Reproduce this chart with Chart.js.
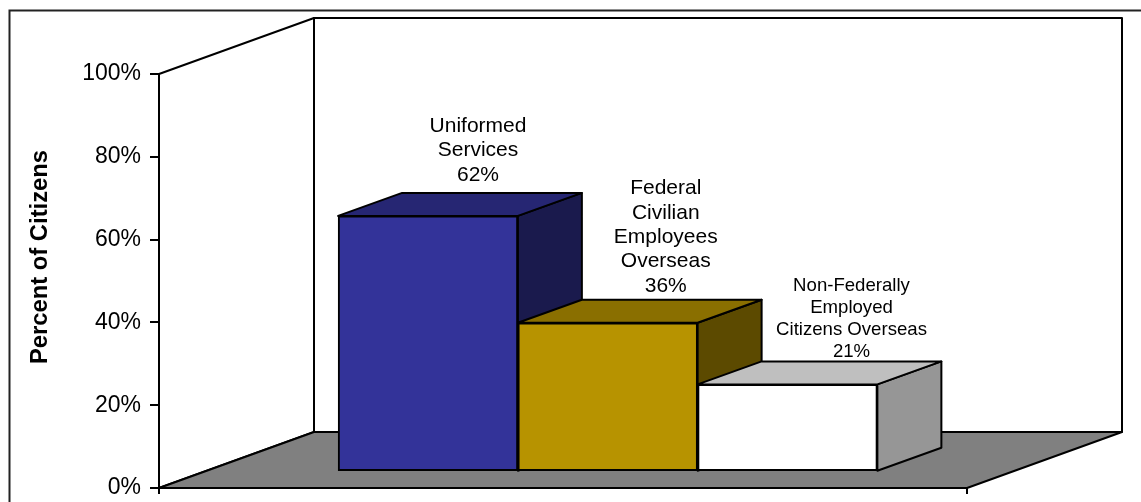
<!DOCTYPE html>
<html>
<head>
<meta charset="utf-8">
<title>Percent of Citizens</title>
<script src="https://cdn.jsdelivr.net/npm/chart.js@4"></script>
<style>
    html, body { margin: 0; padding: 0; background: #fff; overflow: hidden; }
    canvas { display: block; }
</style>
</head>
<body>
<canvas id="graficoCiudadanos" width="1141" height="502"></canvas>
<script>
const categories = [
    ["Uniformed", "Services"],
    ["Federal", "Civilian", "Employees", "Overseas"],
    ["Non-Federally", "Employed", "Citizens Overseas"]
];
const values = [62, 36, 21];
const tickValues = [0, 20, 40, 60, 80, 100];
const axisTitle = "Percent of Citizens";

const frontColors = ["#333399", "#b79300", "#ffffff"];
const topColors = ["#262673", "#8a6f00", "#bfbfbf"];
const sideColors = ["#1a1a4d", "#5c4a00", "#969696"];

// depth of the box and of each bar, in pixels
const boxDepth = { x: 155, y: -56 };
const barDepth = { x: 64, y: -23 };

// where each label block sits relative to its bar
const labelStyles = [
    { size: 21, lineHeight: 24.5, dx: 50, dy: -41 },
    { size: 21, lineHeight: 24.3, dx: 58, dy: -37 },
    { size: 18.6, lineHeight: 22, dx: 64, dy: -33 }
];

function polygon(ctx, points, fill, lineWidth) {
    ctx.beginPath();
    points.forEach(function (p, i) {
        if (i === 0) ctx.moveTo(p[0], p[1]);
        else ctx.lineTo(p[0], p[1]);
    });
    ctx.closePath();
    if (fill) {
        ctx.fillStyle = fill;
        ctx.fill();
    }
    ctx.lineWidth = lineWidth;
    ctx.strokeStyle = "#000";
    ctx.lineJoin = "round";
    ctx.stroke();
}

// outer frame, back wall, side wall and floor
const boxPlugin = {
    id: "box3d",
    beforeDraw(chart) {
        const ctx = chart.ctx;
        const a = chart.chartArea;
        const dx = boxDepth.x, dy = boxDepth.y;
        ctx.save();
        ctx.fillStyle = "#fff";
        ctx.fillRect(0, 0, chart.width, chart.height);

        ctx.beginPath();
        ctx.moveTo(9.5, chart.height);
        ctx.lineTo(9.5, 10.5);
        ctx.lineTo(chart.width, 10.5);
        ctx.lineWidth = 2;
        ctx.strokeStyle = "#222";
        ctx.stroke();

        polygon(ctx, [[a.left + dx, a.top + dy], [a.right + dx, a.top + dy], [a.right + dx, a.bottom + dy], [a.left + dx, a.bottom + dy]], "#fff", 2);
        polygon(ctx, [[a.left, a.top], [a.left + dx, a.top + dy], [a.left + dx, a.bottom + dy], [a.left, a.bottom]], "#fff", 2);
        polygon(ctx, [[a.left, a.bottom], [a.left + dx, a.bottom + dy], [a.right + dx, a.bottom + dy], [a.right, a.bottom]], "#808080", 2);

        ctx.save();
        ctx.translate(40, 257);
        ctx.rotate(-Math.PI / 2);
        ctx.font = "bold 23.8px 'Liberation Sans'";
        ctx.fillStyle = "#000";
        ctx.textAlign = "center";
        ctx.textBaseline = "middle";
        ctx.fillText(axisTitle, 0, 0);
        ctx.restore();
        ctx.restore();
    }
};

// top and side faces behind the front of each bar
const barFacesPlugin = {
    id: "barFaces",
    beforeDatasetsDraw(chart) {
        const ctx = chart.ctx;
        const dx = barDepth.x, dy = barDepth.y;
        ctx.save();
        chart.getDatasetMeta(0).data.forEach(function (bar, i) {
            const left = bar.x - bar.width / 2;
            const right = bar.x + bar.width / 2;
            polygon(ctx, [[right, bar.y], [right + dx, bar.y + dy], [right + dx, bar.base + dy], [right, bar.base]], sideColors[i], 2);
            polygon(ctx, [[left, bar.y], [left + dx, bar.y + dy], [right + dx, bar.y + dy], [right, bar.y]], topColors[i], 2);
        });
        ctx.restore();
    }
};

// category name and value stacked above each bar
const barLabelsPlugin = {
    id: "barLabels",
    afterDatasetsDraw(chart) {
        const ctx = chart.ctx;
        ctx.save();
        ctx.fillStyle = "#000";
        ctx.textAlign = "center";
        ctx.textBaseline = "middle";
        chart.getDatasetMeta(0).data.forEach(function (bar, i) {
            const s = labelStyles[i];
            const lines = categories[i].concat(values[i] + "%");
            ctx.font = s.size + "px 'Liberation Sans'";
            lines.forEach(function (line, n) {
                const y = bar.y + s.dy - (lines.length - 1 - n) * s.lineHeight;
                ctx.fillText(line, bar.x + s.dx, y);
            });
        });
        ctx.restore();
    }
};

const ctx = document.getElementById("graficoCiudadanos").getContext("2d");
new Chart(ctx, {
    type: "bar",
    data: {
        datasets: [{
            data: values.map(function (v, i) { return { x: i + 1, y: v }; }),
            yAxisID: "yBars",
            backgroundColor: frontColors,
            borderColor: "#000",
            borderWidth: 2,
            borderSkipped: false,
            barPercentage: 1,
            categoryPercentage: 1,
            clip: false
        }]
    },
    options: {
        responsive: false,
        animation: false,
        events: [],
        layout: { padding: { top: 74, right: 174, bottom: 0, left: 0 } },
        plugins: { legend: { display: false }, title: { display: false }, tooltip: { enabled: false } },
        scales: {
            x: {
                type: "linear",
                offset: false,
                min: -0.4965,
                max: 3.9986,
                border: { color: "#000", width: 2 },
                grid: { drawOnChartArea: false, offset: false, color: "#000", lineWidth: 2, tickLength: 6 },
                ticks: { display: false },
                afterBuildTicks(scale) {
                    scale.ticks = [{ value: scale.min }, { value: scale.max }];
                },
                afterFit(scale) { scale.height = 14; }
            },
            y: {
                min: 0,
                max: 100,
                border: { color: "#000", width: 2 },
                grid: { drawOnChartArea: false, color: "#000", lineWidth: 2, tickLength: 9 },
                ticks: {
                    color: "#000",
                    padding: 9,
                    font: { family: "'Liberation Sans'", size: 23 },
                    callback: function (value) { return value + "%"; }
                },
                afterBuildTicks(scale) {
                    scale.ticks = tickValues.map(function (v) { return { value: v }; });
                },
                afterFit(scale) {
                    scale.width = 159;
                    scale.paddingTop = 0;
                    scale.paddingBottom = 0;
                }
            },
            // bars stand on the floor, a little in front of the axis zero
            yBars: {
                display: false,
                min: -4.2,
                max: 96.53
            }
        }
    },
    plugins: [boxPlugin, barFacesPlugin, barLabelsPlugin]
});
</script>
</body>
</html>
